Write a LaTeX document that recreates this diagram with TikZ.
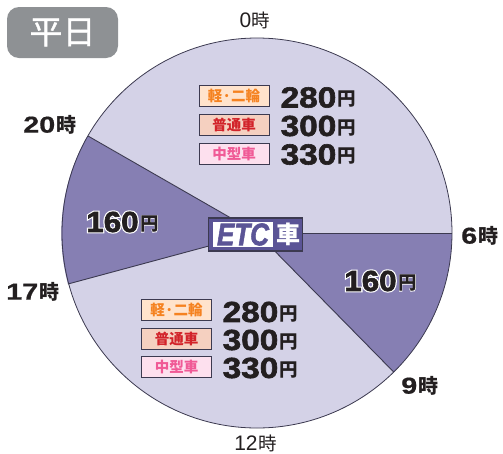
\documentclass[tikz,border=0pt]{standalone}
\usepackage{fontspec}
\setmainfont{Liberation Sans}
\newfontfamily\cjk{Noto Sans CJK JP}
\newfontfamily\cjkm[FakeBold=1]{Noto Sans CJK JP}
\newfontfamily\heavy[FakeBold=2]{Liberation Sans Bold}
\newfontfamily\medi[FakeBold=0.6]{Liberation Sans Bold}
\newfontfamily\italheavy[FakeBold=2]{Liberation Sans Bold Italic}
\newfontfamily\halofont[FakeBold=10]{Liberation Sans Bold}
\newfontfamily\halocjk[FakeBold=6]{Noto Sans CJK JP Bold}
\usepackage{graphicx}
\definecolor{pale}{HTML}{D4D2E7}
\definecolor{deep}{HTML}{867FB3}
\definecolor{edge}{HTML}{3C3A50}
\definecolor{etcblue}{HTML}{5B5496}
\definecolor{txt}{HTML}{231F20}
\definecolor{badge}{HTML}{8E9194}
\definecolor{kfill}{HTML}{FFE3CC}
\definecolor{ktext}{HTML}{F58220}
\definecolor{ffill}{HTML}{F5D0C0}
\definecolor{ftext}{HTML}{D2232A}
\definecolor{mfill}{HTML}{FDE0EE}
\definecolor{mtext}{HTML}{F05A96}
\tikzset{x=1pt,y=-1pt,
  hourlabel/.style={text=txt,inner sep=0pt},
  pricelabel/.style={text=txt,inner sep=0pt},
  halolabel/.style={text=white,inner sep=0pt},
  tagbox/.style={draw=edge,line width=1pt,minimum width=70pt,minimum height=21pt,inner sep=0pt,font=\fontsize{14.5}{14}\selectfont\cjk\bfseries},
  tagK/.style={tagbox,fill=kfill,text=ktext},
  tagF/.style={tagbox,fill=ffill,text=ftext},
  tagM/.style={tagbox,fill=mfill,text=mtext},
}
\newcommand{\yen}[1]{\scalebox{1.15}[1]{\fontsize{29}{29}\selectfont\heavy #1}\hspace{1.5pt}\raisebox{1.5pt}{\fontsize{18.5}{18}\selectfont\cjk\bfseries 円}}
\newcommand{\yensix}{\scalebox{1.08}[1]{\fontsize{29}{29}\selectfont\heavy 160}\hspace{1.5pt}\raisebox{1.5pt}{\fontsize{18.5}{18}\selectfont\cjk\bfseries 円}}
\newcommand{\yenhalo}{\scalebox{1.08}[1]{\fontsize{29}{29}\selectfont\halofont 160}\hspace{1.5pt}\raisebox{1.5pt}{\fontsize{18.5}{18}\selectfont\halocjk 円}}
\newcommand{\hr}[1]{\scalebox{1.25}[1]{\fontsize{23}{23}\selectfont\medi #1}\hspace{1.5pt}{\fontsize{20}{20}\selectfont\cjk\bfseries 時}}
\newcommand{\hrthin}[1]{{\fontsize{21}{21}\selectfont #1}\hspace{0.5pt}{\fontsize{18.5}{18.5}\selectfont\cjk 時}}
\begin{document}
\begin{tikzpicture}
\useasboundingbox (0,0) rectangle (503,453);
% sectors
\coordinate (c) at (257,233);
\coordinate (r6) at (452,233);
\coordinate (r20) at (88,136);
\coordinate (r17) at (68,284);
\coordinate (r9) at (393.7,372);
\fill[pale] (c) circle[radius=195];
\fill[deep] (c) -- (r6) arc[start angle=0,end angle=45.5,radius=195] -- cycle;
\fill[deep] (c) -- (r17) arc[start angle=165,end angle=210,radius=195] -- cycle;
\draw[edge,line width=0.8pt] (c) circle[radius=195];
\draw[edge,line width=0.9pt] (c) -- (r6);
\draw[edge,line width=0.9pt] (c) -- (r9);
\draw[edge,line width=0.9pt] (c) -- (r17);
\draw[edge,line width=0.9pt] (c) -- (r20);
% badge
\node[fill=badge,rounded corners=12pt,minimum width=111pt,minimum height=51pt,inner sep=0pt,text=white] (day) at (62.5,32.5)
  {\fontsize{33}{33}\selectfont\cjkm 平日};
% hours
\node[hourlabel] (h0) at (255,20) {\hrthin{0}};
\node[hourlabel] (h6) at (480,236) {\hr{6}};
\node[hourlabel] (h9) at (420,386) {\hr{9}};
\node[hourlabel] (h12) at (255.5,443.5) {\hrthin{12}};
\node[hourlabel] (h17) at (33,292) {\hr{17}};
\node[hourlabel] (h20) at (50,125) {\hr{20}};
% top group
\node[tagK] (ta) at (234,96) {軽·二輪};
\node[tagF] (tb) at (234,125) {普通車};
\node[tagM] (tc) at (234,153.5) {中型車};
\node[pricelabel] (pa) at (318.5,97.5) {\yen{280}};
\node[pricelabel] (pb) at (318.5,126) {\yen{300}};
\node[pricelabel] (pc) at (318.5,154.5) {\yen{330}};
% bottom group
\node[tagK] (ba) at (176.5,310) {軽·二輪};
\node[tagF] (bb) at (176.5,338.5) {普通車};
\node[tagM] (bc) at (176.5,366.5) {中型車};
\node[pricelabel] (qa) at (260.5,312) {\yen{280}};
\node[pricelabel] (qb) at (260.5,340) {\yen{300}};
\node[pricelabel] (qc) at (260.5,368) {\yen{330}};
% off-peak prices
\node[halolabel] (plh) at (122.5,222) {\yenhalo};
\node[pricelabel] (pl) at (122.5,222) {\yensix};
\node[halolabel] (prh) at (380.5,281) {\yenhalo};
\node[pricelabel] (pr) at (380.5,281) {\yensix};
% ETC mark
\node[draw=edge,fill=etcblue,line width=1.6pt,minimum width=94pt,minimum height=33pt,inner sep=0pt] (etc) at (255.5,234.5) {};
\node[fill=white,minimum width=60pt,minimum height=25pt,inner sep=0pt,text=etcblue] (etcw) at (243,234.5)
  {\scalebox{1}[1.2]{\fontsize{26}{26}\selectfont\italheavy ETC}};
\node[text=white,inner sep=0pt] (etck) at (288,234) {\fontsize{24}{24}\selectfont\cjk\bfseries 車};
\end{tikzpicture}
\end{document}
